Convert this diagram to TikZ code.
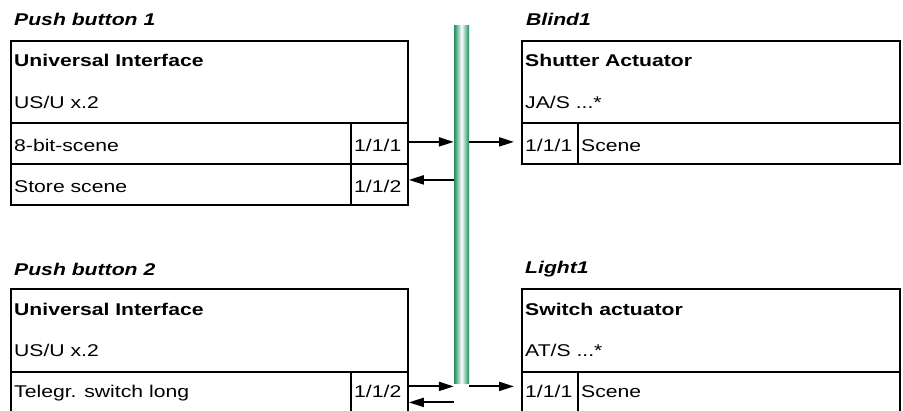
\documentclass[tikz,border=0pt]{standalone}
\usepackage{fontspec}
\setmainfont{Liberation Sans}[FakeStretch=1.245]
\usetikzlibrary{arrows.meta}
\definecolor{busgreen}{RGB}{34,146,94}
\pgfdeclarehorizontalshading{busshade}{100bp}{color(0bp)=(busgreen); color(26bp)=(busgreen); color(50bp)=(white); color(74bp)=(busgreen); color(100bp)=(busgreen)}
\tikzset{
  cell/.style={draw, line width=1.8pt, inner sep=0pt, anchor=north west},
  txt/.style={anchor=base west, inner sep=0pt, font=\fontsize{17}{20}\selectfont},
  ttl/.style={anchor=base west, inner sep=0pt, font=\fontsize{17}{20}\selectfont\bfseries\itshape},
  hdr/.style={anchor=base west, inner sep=0pt, font=\fontsize{17}{20}\selectfont\bfseries},
  arr/.style={line width=2pt, -{Triangle[length=15pt,width=9pt]}},
  bus/.style={shading=busshade, inner sep=0pt, minimum width=15pt, minimum height=358pt}
}
\begin{document}
\begin{tikzpicture}[x=1pt,y=-1pt]
\useasboundingbox (0,0) rectangle (903,410);
\clip (0,0) rectangle (903,410);
% bus
\node[bus] (bus) at (461.5,204) {};
% Push button 1
\node[ttl] (t1) at (14,25) {Push button 1};
\node[cell, minimum width=397pt, minimum height=82pt] (h1) at (10,40) {};
\node[cell, minimum width=340pt, minimum height=41pt] (n11) at (10,122) {};
\node[cell, minimum width=57pt, minimum height=41pt] (a11) at (350,122) {};
\node[cell, minimum width=340pt, minimum height=41pt] (n12) at (10,163) {};
\node[cell, minimum width=57pt, minimum height=41pt] (a12) at (350,163) {};
\node[hdr] (h1a) at (14,66.5) {Universal Interface};
\node[txt] (h1b) at (14,108) {US/U x.2};
\node[txt] (n11t) at (14,151) {8-bit-scene};
\node[txt] (a11t) at (354,151) {1/1/1};
\node[txt] (n12t) at (14,192) {Store scene};
\node[txt] (a12t) at (354,192) {1/1/2};
% Blind1
\node[ttl] (t2) at (526,25) {Blind1};
\node[cell, minimum width=378pt, minimum height=82pt] (h2) at (521,40) {};
\node[cell, minimum width=56pt, minimum height=41pt] (r11) at (521,122) {};
\node[cell, minimum width=322pt, minimum height=41pt] (s11) at (577,122) {};
\node[hdr] (h2a) at (525,66.5) {Shutter Actuator};
\node[txt] (h2b) at (525,108) {JA/S ...*};
\node[txt] (r11t) at (525,151) {1/1/1};
\node[txt] (s11t) at (581,151) {Scene};
% Push button 2
\node[ttl] (t3) at (14,275) {Push button 2};
\node[cell, minimum width=397pt, minimum height=83pt] (h3) at (10,288) {};
\node[cell, minimum width=340pt, minimum height=42pt] (n21) at (10,371) {};
\node[cell, minimum width=57pt, minimum height=42pt] (a21) at (350,371) {};
\node[hdr] (h3a) at (14,315) {Universal Interface};
\node[txt] (h3b) at (14,356.5) {US/U x.2};
\node[txt] (n21t) at (14,397) {Telegr. switch long};
\node[txt] (a21t) at (354,397) {1/1/2};
% Light1
\node[ttl] (t4) at (525,273) {Light1};
\node[cell, minimum width=378pt, minimum height=83pt] (h4) at (521,288) {};
\node[cell, minimum width=56pt, minimum height=42pt] (r21) at (521,371) {};
\node[cell, minimum width=322pt, minimum height=42pt] (s21) at (577,371) {};
\node[hdr] (h4a) at (525,315) {Switch actuator};
\node[txt] (h4b) at (525,356.5) {AT/S ...*};
\node[txt] (r21t) at (525,397) {1/1/1};
\node[txt] (s21t) at (581,397) {Scene};
% arrows
\draw[arr] ([yshift=1.5pt]a11.east) -- ([yshift=1.5pt]a11.east -| bus.west);
\draw[arr] ([yshift=4.5pt]a12.east -| bus.west) -- ([yshift=4.5pt]a12.east);
\draw[arr, shorten >=7pt] ([yshift=1.5pt]r11.west -| bus.east) -- ([yshift=1.5pt]r11.west);
\draw[arr] ([yshift=6.5pt]a21.east) -- ([yshift=6.5pt]a21.east -| bus.west);
\draw[arr] ([yshift=-9.5pt]a21.east -| bus.west) -- ([yshift=-9.5pt]a21.east);
\draw[arr, shorten >=7pt] ([yshift=6.5pt]r21.west -| bus.east) -- ([yshift=6.5pt]r21.west);
\end{tikzpicture}
\end{document}
